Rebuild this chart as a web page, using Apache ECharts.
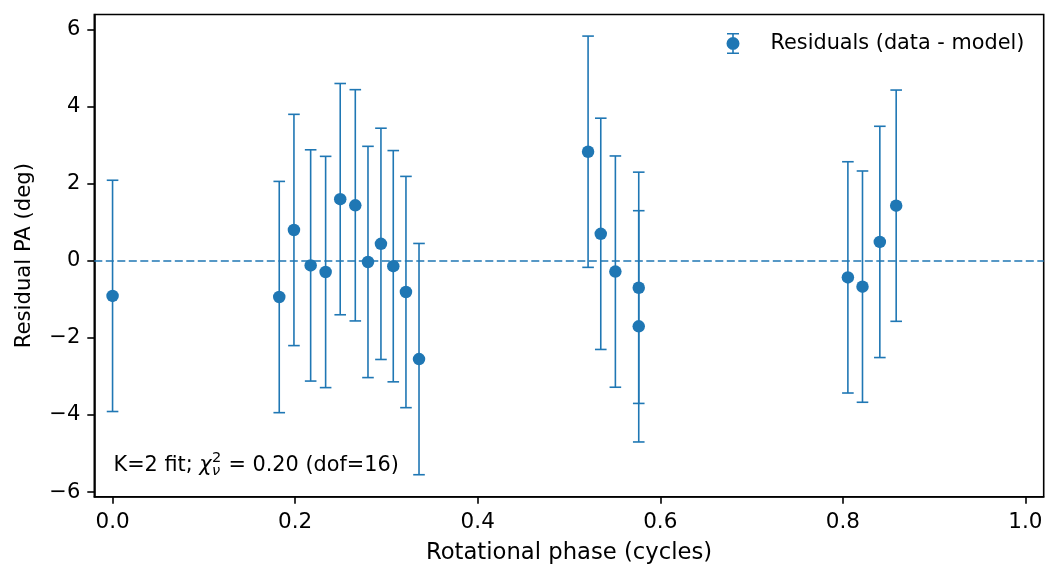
<!DOCTYPE html>
<html>
<head>
<meta charset="utf-8">
<script src="https://cdn.jsdelivr.net/npm/echarts@6/dist/echarts.min.js"></script>
<style>
html,body{margin:0;padding:0;background:#fff;}
#chart{width:1058px;height:580px;}
</style>
</head>
<body>
<div id="chart"></div>
<script>
// ---- data ----
const phase = [0.0, 0.1826, 0.1987, 0.2170, 0.2334, 0.2494, 0.2659, 0.2798, 0.2940, 0.3075, 0.3214,
               0.3357, 0.5209, 0.5348, 0.5508, 0.5764, 0.5764, 0.8055, 0.8215, 0.8405, 0.8584];
const residual = [-0.91, -0.94, 0.80, -0.12, -0.29, 1.60, 1.44, -0.03, 0.44, -0.14, -0.81,
                  -2.55, 2.83, 0.70, -0.28, -0.70, -1.70, -0.43, -0.67, 0.49, 1.43];
const errbar = [3.0, 3.0, 3.0, 3.0, 3.0, 3.0, 3.0, 3.0, 3.0, 3.0, 3.0,
                3.0, 3.0, 3.0, 3.0, 3.0, 3.0, 3.0, 3.0, 3.0, 3.0];
const xTicks = [0.0, 0.2, 0.4, 0.6, 0.8, 1.0];
const yTicks = [-6, -4, -2, 0, 2, 4, 6];
const seriesName = 'Residuals (data - model)';
const xTitle = 'Rotational phase (cycles)';
const yTitle = 'Residual PA (deg)';

const BLUE = '#1f77b4';
const FONT = 'DejaVu Sans';

const chart = echarts.init(document.getElementById('chart'), null, {renderer: 'canvas'});

const pts = phase.map((p, i) => [p, residual[i]]);
const errData = phase.map((p, i) => [p, residual[i], errbar[i]]);

// annotation layout via text measurement
const cv = document.createElement('canvas').getContext('2d');
function tw(str, size, italic) {
  cv.font = (italic ? 'italic ' : '') + size + 'px "' + FONT + '"';
  return cv.measureText(str).width;
}
const AFS = 20.8;
const ax0 = 113.5, ay = 466;
const part1 = 'K=2 fit; ';
const part3 = ' = 0.20 (dof=16)';
const w1 = tw(part1, AFS, false);
const wchi = tw('\u03c7', AFS, true);
const wsup = Math.max(tw('2', AFS * 0.7, false), tw('\u03bd', AFS * 0.7, true));

const legendIcon = 'path://M5.7,0 h1.6 v21 h-1.6 z M0.5,0 h12 v1.6 h-12 z M0.5,19.4 h12 v1.6 h-12 z M0,10.5 a6.5,6.5 0 1,1 13,0 a6.5,6.5 0 1,1 -13,0 z';

const option = {
  backgroundColor: '#fff',
  animation: false,
  textStyle: {fontFamily: FONT},
  grid: {left: 94.3, top: 14.5, right: 14.3, bottom: 83.3, show: true, borderColor: '#000', borderWidth: 1.6, backgroundColor: 'transparent'},
  legend: {
    data: [{name: seriesName, icon: legendIcon}],
    left: 721.5, top: 28,
    itemWidth: 13, itemHeight: 21,
    textStyle: {fontFamily: FONT, fontSize: 20.8, color: '#000', padding: [0, 0, 0, 26]},
    selectedMode: false
  },
  xAxis: {
    type: 'value', min: -0.02, max: 1.02,
    name: xTitle, nameLocation: 'middle', nameGap: 45,
    nameTextStyle: {fontFamily: FONT, fontSize: 22.7, color: '#000'},
    axisLine: {show: true, onZero: false, lineStyle: {color: '#000', width: 1.6}},
    axisTick: {show: true, length: 7, customValues: xTicks, lineStyle: {color: '#000', width: 1.6}},
    axisLabel: {customValues: xTicks, margin: 15, fontFamily: FONT, fontSize: 21.5, color: '#000',
      formatter: v => v.toFixed(1)},
    splitLine: {show: false}
  },
  yAxis: {
    type: 'value', min: -6.12, max: 6.39,
    name: yTitle, nameLocation: 'middle', nameGap: 59, nameRotate: 90,
    nameTextStyle: {fontFamily: FONT, fontSize: 21.2, color: '#000'},
    axisLine: {show: true, onZero: false, lineStyle: {color: '#000', width: 1.6}},
    axisTick: {show: true, length: 7, customValues: yTicks, lineStyle: {color: '#000', width: 1.6}},
    axisLabel: {customValues: yTicks, margin: 14, fontFamily: FONT, fontSize: 21, color: '#000',
      formatter: v => (v < 0 ? '\u2212' + Math.abs(v) : String(v))},
    splitLine: {show: false}
  },
  series: [
    {
      type: 'custom',
      name: 'errorbars',
      data: errData,
      z: 2,
      silent: true,
      clip: false,
      renderItem: function (params, api) {
        const x = api.value(0), y = api.value(1), e = api.value(2);
        const top = api.coord([x, y + e]);
        const bot = api.coord([x, y - e]);
        const hw = 5.8;
        const st = {stroke: BLUE, lineWidth: 1.6, fill: null};
        return {
          type: 'group',
          children: [
            {type: 'line', shape: {x1: top[0], y1: top[1], x2: bot[0], y2: bot[1]}, style: st},
            {type: 'line', shape: {x1: top[0] - hw, y1: top[1], x2: top[0] + hw, y2: top[1]}, style: st},
            {type: 'line', shape: {x1: bot[0] - hw, y1: bot[1], x2: bot[0] + hw, y2: bot[1]}, style: st}
          ]
        };
      },
      markLine: {
        silent: true,
        symbol: ['none', 'none'],
        label: {show: false},
        lineStyle: {color: BLUE, type: [8, 3.5], width: 1.7, opacity: 1},
        data: [{yAxis: 0}],
        z: 1
      }
    },
    {
      type: 'scatter',
      name: seriesName,
      data: pts,
      symbol: 'circle',
      symbolSize: 12.5,
      itemStyle: {color: BLUE, opacity: 1},
      z: 3
    }
  ],
  graphic: [
    {type: 'text', left: ax0, top: ay - 11, style: {text: part1, font: AFS + 'px "' + FONT + '"', fill: '#000'}},
    {type: 'text', left: ax0 + w1, top: ay - 11, style: {text: '\u03c7', font: 'italic ' + AFS + 'px "' + FONT + '"', fill: '#000'}},
    {type: 'text', left: ax0 + w1 + wchi + 0.5, top: ay - 15, style: {text: '2', font: (AFS * 0.7) + 'px "' + FONT + '"', fill: '#000'}},
    {type: 'text', left: ax0 + w1 + wchi + 0.5, top: ay - 2, style: {text: '\u03bd', font: 'italic ' + (AFS * 0.7) + 'px "' + FONT + '"', fill: '#000'}},
    {type: 'text', left: ax0 + w1 + wchi + wsup + 1, top: ay - 11, style: {text: part3, font: AFS + 'px "' + FONT + '"', fill: '#000'}}
  ]
};
chart.setOption(option);
</script>
</body>
</html>
